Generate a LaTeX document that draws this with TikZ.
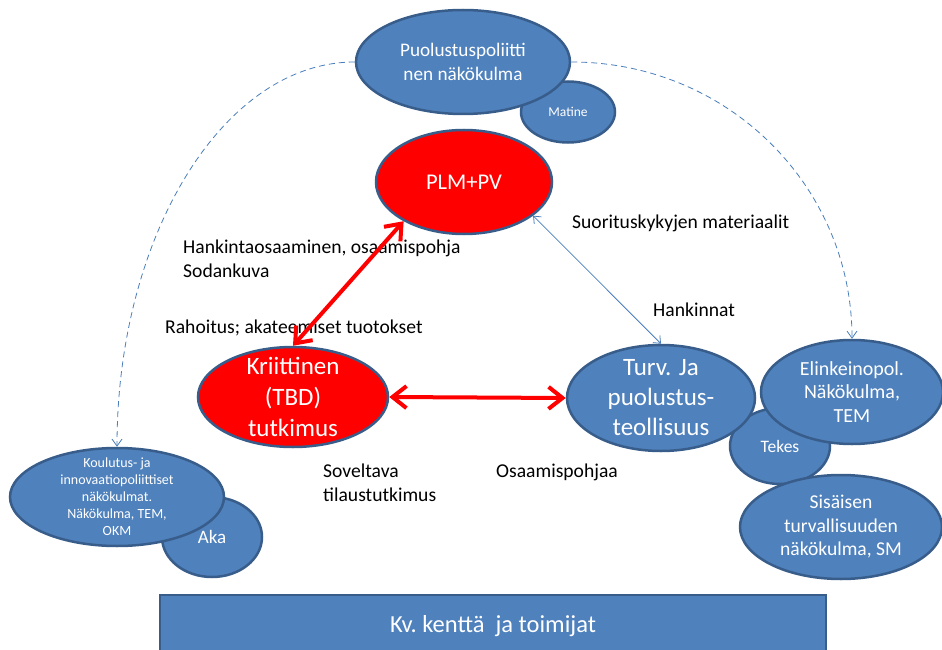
\documentclass[tikz,border=0pt]{standalone}
\usepackage{fontspec}
\setmainfont{Carlito}
\usetikzlibrary{shapes.geometric,arrows.meta}
\definecolor{boxblue}{HTML}{4F81BD}
\definecolor{rimblue}{HTML}{385D8A}
\definecolor{lineblue}{HTML}{4A7EBB}

\begin{document}
\begin{tikzpicture}[x=1pt,y=-1pt,
	bub/.style={ellipse,fill=boxblue,draw=rimblue,line width=2.5pt,text=white,align=center,inner sep=0pt},
	hot/.style={bub,fill=red},
	lbl/.style={anchor=west,align=left,inner sep=0pt,font=\fontsize{19.6}{24}\selectfont},
	redarr/.style={draw=red,line width=4pt,{Straight Barb[length=14pt,width=22pt]}-{Straight Barb[length=14pt,width=22pt]}},
	thinarr/.style={draw=lineblue,line width=0.8pt,{Straight Barb[length=6pt,width=10pt]}-{Straight Barb[length=6pt,width=10pt]}},
	dasharr/.style={draw=lineblue,line width=0.8pt,dash pattern=on 6pt off 4pt,-{Straight Barb[length=7pt,width=10pt]}}]
				\useasboundingbox (0,0) rectangle (942,650);
				% top
				\node[bub,minimum width=94,minimum height=61,font=\fontsize{13.5}{16}\selectfont] (mat) at (568,112) {Matine};
				\node[bub,minimum width=214,minimum height=104,font=\fontsize{19.2}{24}\selectfont] (puo) at (463,62) {Puolustuspoliitti\\nen näkökulma};
				\node[hot,minimum width=176,minimum height=104,font=\fontsize{22.5}{27}\selectfont] (plm) at (464,182) {PLM+PV};
				% middle
				\node[hot,minimum width=190,minimum height=100,inner ysep=-14pt,font=\fontsize{25}{31}\selectfont] (kri) at (293,397) {Kriittinen\\(TBD)\\tutkimus};
				\node[bub,minimum width=100,minimum height=76,font=\fontsize{17.5}{20}\selectfont] (tek) at (780,446) {Tekes};
				\node[bub,minimum width=188,minimum height=106,inner ysep=-14pt,font=\fontsize{25}{30}\selectfont] (tur) at (661,398) {Turv. Ja\\puolustus-\\teollisuus};
				\node[bub,minimum width=182,minimum height=104,font=\fontsize{20}{23.5}\selectfont] (eli) at (852,392) {Elinkeinopol.\\Näkökulma,\\TEM};
				\node[bub,minimum width=202,minimum height=104,font=\fontsize{19.6}{23.5}\selectfont] (sis) at (841,527) {Sisäisen\\turvallisuuden\\näkökulma, SM};
				% left
				\node[bub,minimum width=100,minimum height=80,font=\fontsize{19}{23}\selectfont] (aka) at (212,537) {Aka};
				\node[bub,minimum width=214,minimum height=98,inner ysep=-12pt,font=\fontsize{14}{17}\selectfont] (kou) at (117,497) {Koulutus- ja\\innovaatiopoliittiset\\näkökulmat.\\Näkökulma, TEM,\\OKM};
				% bottom bar
				\node[rectangle,fill=boxblue,draw=rimblue,line width=2pt,minimum width=666,minimum height=62,text=white,font=\fontsize{24.5}{29}\selectfont] (kv) at (493,626) {Kv.\ kenttä~ ja toimijat};
				% labels
				\node[lbl] (hank) at (183,259) {Hankintaosaaminen, osaamispohja\\Sodankuva};
				\node[lbl] (rah) at (165,328) {Rahoitus; akateemiset tuotokset};
				\node[lbl] (suo) at (572,223) {Suorituskykyjen materiaalit};
				\node[lbl] (hnk) at (653,310) {Hankinnat};
				\node[lbl] (sov) at (323,483) {Soveltava\\tilaustutkimus};
				\node[lbl] (osa) at (496,472) {Osaamispohjaa};
				\draw[dasharr] (puo.west) .. controls +(-132,0) and +(0,-210) .. (kou.north);
				\draw[dasharr] (puo.east) .. controls +(157,0) and +(0,-152) .. (eli.north);
				\draw[thinarr] (plm.-26) -- (tur.north);
				\draw[redarr] (plm.213) -- (kri.north);
				\draw[redarr] (kri.east) -- (tur.west);
			\end{tikzpicture}
\end{document}
